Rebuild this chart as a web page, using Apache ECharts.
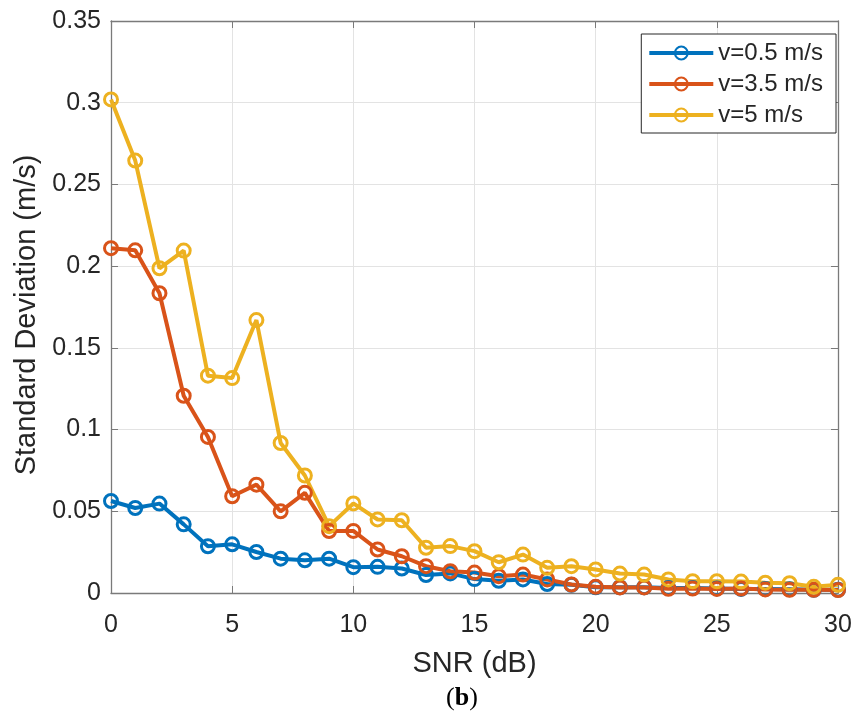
<!DOCTYPE html>
<html><head><meta charset="utf-8">
<script src="https://cdn.jsdelivr.net/npm/echarts@6/dist/echarts.min.js"></script>
<style>html,body{margin:0;padding:0;background:#fff}#c{width:858px;height:717px}</style>
</head><body><div id="c"></div>
<script>
const snr = [0,1,2,3,4,5,6,7,8,9,10,11,12,13,14,15,16,17,18,19,20,21,22,23,24,25,26,27,28,29,30];
const v05 = [0.0563,0.052,0.0547,0.042,0.0286,0.0298,0.0251,0.021,0.020,0.021,0.0158,0.016,0.015,0.011,0.012,0.0085,0.0075,0.0083,0.0055,0.005,0.0035,0.0035,0.0035,0.003,0.003,0.0028,0.0025,0.0025,0.0023,0.002,0.002];
const v35 = [0.211,0.2097,0.1834,0.1207,0.0955,0.0592,0.0663,0.050,0.0613,0.0379,0.038,0.0266,0.0225,0.0164,0.0133,0.0125,0.0103,0.0113,0.0083,0.0052,0.0038,0.0034,0.0034,0.0026,0.0027,0.0025,0.0027,0.0022,0.002,0.002,0.0018];
const v5 = [0.302,0.2646,0.1987,0.2095,0.133,0.1315,0.167,0.0918,0.0719,0.0409,0.0548,0.045,0.0445,0.0277,0.0287,0.0256,0.0188,0.0235,0.0154,0.0164,0.0144,0.0119,0.0113,0.0083,0.0072,0.0072,0.007,0.0063,0.006,0.0038,0.005];
const names = ['v=0.5 m/s','v=3.5 m/s','v=5 m/s'];
const colors = ['#0072BD','#D95319','#EDB120'];
const xTicks = [0,5,10,15,20,25,30];
const yTicks = [0,0.05,0.1,0.15,0.2,0.25,0.3,0.35];
const xTitle = 'SNR (dB)';
const yTitle = 'Standard Deviation (m/s)';
const caption = 'b';

const chart = echarts.init(document.getElementById('c'));
const axColor = '#7a7a7a';
const txt = '#262626';
const font = 'Liberation Sans, Arial, sans-serif';
const serif = 'Liberation Serif, Times New Roman, serif';
function mk(name, data, color){
  return {name, type:'line', data: data.map((v,i)=>[snr[i],v]),
    symbol:'circle', symbolSize:13, showAllSymbol:true, clip:false,
    lineStyle:{width:4,color},
    itemStyle:{color:'rgba(255,255,255,0)', borderColor:color, borderWidth:3},
    emphasis:{disabled:true}};
}
chart.setOption({
  animation:false,
  backgroundColor:'#fff',
  grid:{left:111,right:20,top:21,bottom:124},
  legend:{
    right:22, top:34, orient:'vertical', padding:[6,13,5,6], itemGap:5,
    itemWidth:64, itemHeight:16,
    lineStyle:{width:4},
    borderColor:'#262626', borderWidth:1, backgroundColor:'#fff',
    textStyle:{fontSize:24,lineHeight:26,color:txt,fontFamily:font},
    data:names
  },
  xAxis:[{
    type:'value', min:0, max:30, interval:5,
    name:xTitle, nameLocation:'middle', nameGap:56,
    nameTextStyle:{fontSize:29,color:txt,fontFamily:font},
    axisLine:{lineStyle:{color:axColor,width:1.3}},
    axisTick:{inside:true,length:7,lineStyle:{color:axColor}},
    axisLabel:{fontSize:25,color:txt,fontFamily:font,margin:20,formatter:v=>xTicks.includes(v)?String(v):''},
    splitLine:{show:true,lineStyle:{color:'#e3e3e3',width:1}}
  },{
    type:'value', min:0, max:30, interval:5, position:'top',
    axisLine:{show:true,onZero:false,lineStyle:{color:axColor,width:1.3}},
    axisTick:{show:true,inside:true,length:7,lineStyle:{color:axColor}},
    axisLabel:{show:false}, splitLine:{show:false}
  }],
  yAxis:[{
    type:'value', min:0, max:0.35, interval:0.05,
    axisLine:{show:true,lineStyle:{color:axColor,width:1.3}},
    axisTick:{show:true,inside:true,length:7,lineStyle:{color:axColor}},
    axisLabel:{fontSize:25,color:txt,fontFamily:font,margin:10,
      formatter:v=>{const t=yTicks.find(y=>Math.abs(y-v)<1e-9);return t===undefined?'':String(+t.toFixed(2));}},
    splitLine:{show:true,lineStyle:{color:'#e3e3e3',width:1}}
  },{
    type:'value', min:0, max:0.35, interval:0.05, position:'right',
    axisLine:{show:true,onZero:false,lineStyle:{color:axColor,width:1.3}},
    axisTick:{show:true,inside:true,length:7,lineStyle:{color:axColor}},
    axisLabel:{show:false}, splitLine:{show:false}
  }],
  graphic:[{
    type:'text', x:27, y:315, rotation:Math.PI/2,
    style:{text:yTitle, fontSize:29, fontFamily:font, fill:txt, align:'center', verticalAlign:'middle'}
  },{
    type:'text', x:462, y:698,
    style:{rich:{p:{fontSize:26,fontFamily:serif,fill:'#000'},
                 b:{fontSize:26,fontFamily:serif,fontWeight:'bold',fill:'#000'}},
           text:'{p|(}{b|'+caption+'}{p|)}', align:'center', verticalAlign:'middle'}
  }],
  series:[mk(names[0],v05,colors[0]),mk(names[1],v35,colors[1]),mk(names[2],v5,colors[2])]
});
</script></body></html>
